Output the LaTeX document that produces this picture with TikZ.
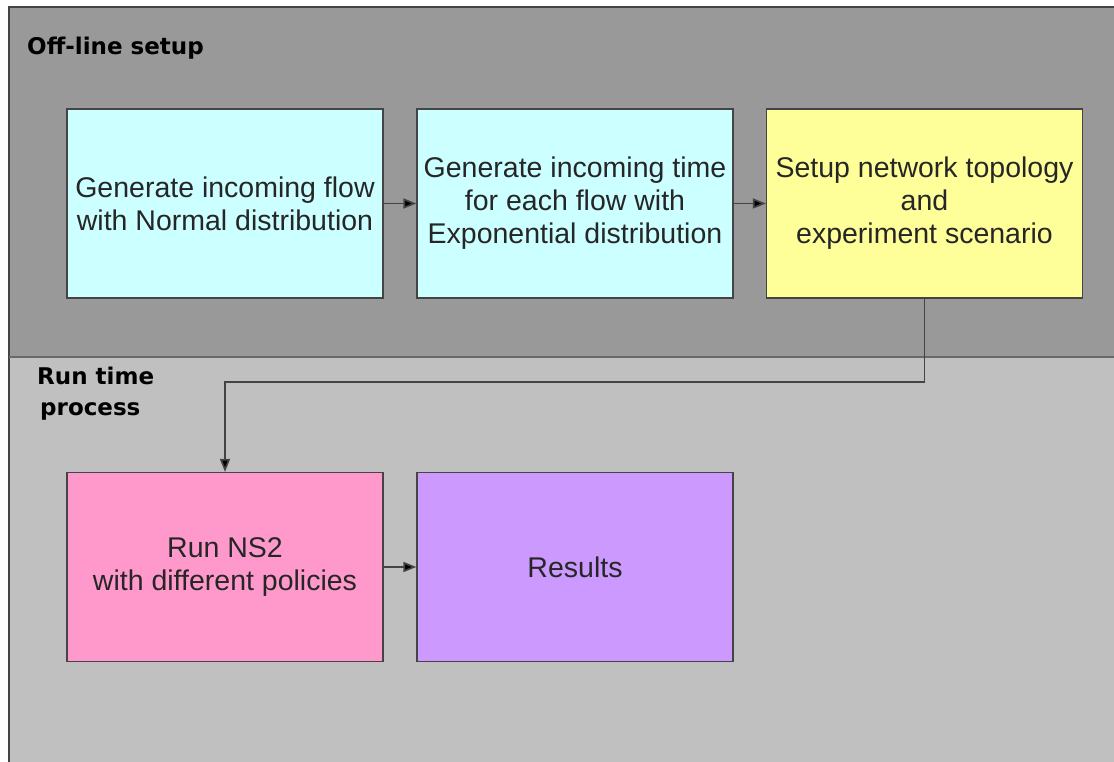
\documentclass[tikz,border=0pt]{standalone}
\usepackage{fontspec}
\setmainfont{Liberation Sans}
\newfontfamily\labelfont{DejaVu Sans}
\usetikzlibrary{arrows.meta}
\definecolor{panelA}{HTML}{999999}
\definecolor{panelB}{HTML}{C0C0C0}
\definecolor{boxcyan}{HTML}{CCFFFF}
\definecolor{boxyellow}{HTML}{FFFF99}
\definecolor{boxpink}{HTML}{FF99CC}
\definecolor{boxpurple}{HTML}{CC99FF}
\definecolor{edge}{HTML}{444444}
\tikzset{
  stepbox/.style={draw=edge, line width=1.2pt, minimum width=316pt, minimum height=189pt,
    inner sep=0pt, align=center, font=\fontsize{28.5}{33}\selectfont, text=black!85},
  panel/.style={font=\labelfont\bfseries\fontsize{23}{31}\selectfont, anchor=north west, align=left, inner sep=0pt},
  flow/.style={draw=edge, line width=1.6pt, -{Triangle[length=13pt,width=10pt,fill=black]}}
}
\begin{document}
\begin{tikzpicture}[x=1pt,y=-1pt]
\useasboundingbox (0,0) rectangle (1114,762);
\fill[white] (0,0) rectangle (1114,762);
% panels
\fill[panelA] (9,7) rectangle (1114,357);
\fill[panelB] (9,357) rectangle (1114,762);
\draw[edge, line width=2pt] (9,762) -- (9,7) -- (1114,7);
\draw[edge!80, line width=2pt] (9,357) -- (1114,357);
\node[panel] (lbl1) at (27,37) {Off-line setup};
\node[panel] (lbl2) at (37,367) {Run time\\\hspace*{3pt}process};
% boxes
\node[stepbox, fill=boxcyan] (b1) at (225,203.5) {Generate incoming flow\\with Normal distribution};
\node[stepbox, fill=boxcyan] (b2) at (575,203.5) {Generate incoming time\\for each flow with\\Exponential distribution};
\node[stepbox, fill=boxyellow] (b3) at (924.5,203.5) {Setup network topology\\and\\experiment scenario};
\node[stepbox, fill=boxpink] (b4) at (225,567) {Run NS2\\with different policies};
\node[stepbox, fill=boxpurple] (b5) at (575,567) {Results};
% connectors
\draw[flow] (b1) -- (b2);
\draw[flow] (b2) -- (b3);
\draw[flow] (b3.south) -- (924.5,382) -| (b4.north);
\draw[flow] (b4) -- (b5);
\end{tikzpicture}
\end{document}
